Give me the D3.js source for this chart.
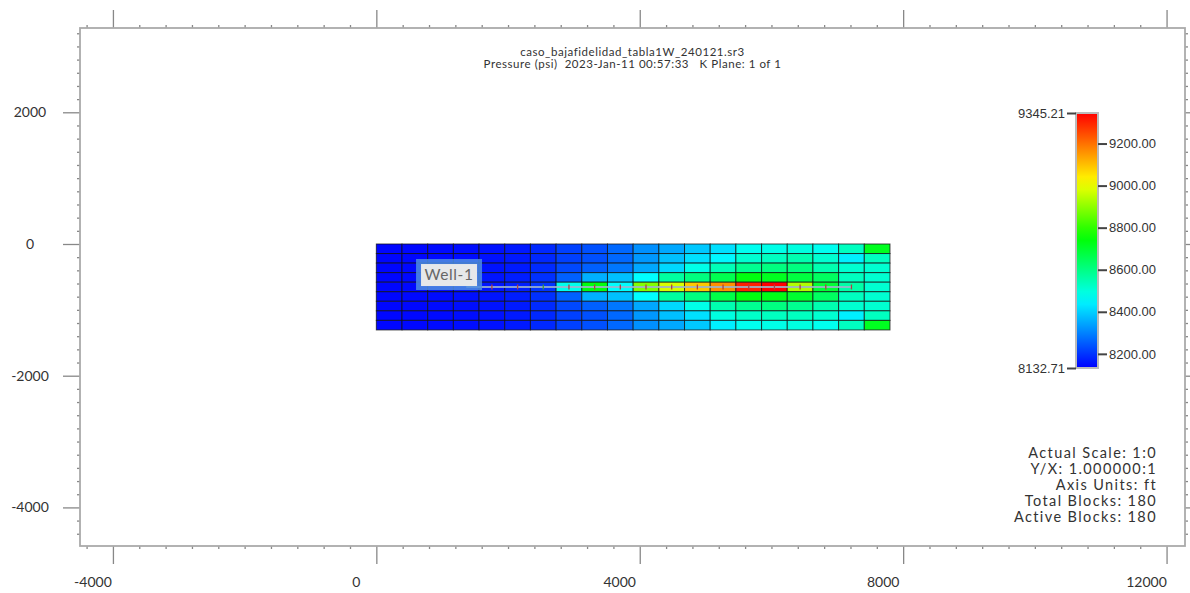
<!DOCTYPE html>
<html>
<head>
<meta charset="utf-8">
<script src="https://cdn.jsdelivr.net/npm/d3@7"></script>
<style>
    body { margin: 0; background: #fff; }
    svg { display: block; font-family: Lato, "Open Sans", sans-serif; }
    text { fill: #333; }
</style>
</head>
<body>
<svg width="1190" height="593"></svg>
<script>
// grid pressures (psi), rows from top (j=1) to bottom (j=9), columns i=1..20
const pressure = [
    [8140, 8142, 8146, 8150, 8155, 8165, 8184, 8215, 8235, 8266, 8318, 8348, 8390, 8420, 8477, 8486, 8495, 8477, 8532, 8714],
    [8140, 8142, 8146, 8150, 8155, 8165, 8184, 8215, 8235, 8266, 8328, 8379, 8420, 8451, 8513, 8532, 8550, 8513, 8441, 8532],
    [8140, 8142, 8146, 8150, 8156, 8166, 8186, 8225, 8256, 8286, 8348, 8410, 8486, 8541, 8586, 8605, 8605, 8550, 8513, 8513],
    [8141, 8143, 8147, 8152, 8158, 8170, 8194, 8256, 8359, 8379, 8460, 8568, 8605, 8660, 8733, 8714, 8678, 8641, 8532, 8513],
    [8141, 8143, 8148, 8153, 8160, 8172, 8200, 8480, 8735, 8460, 8885, 8977, 9088, 9160, 9304, 9345, 8935, 8690, 8559, 8513],
    [8141, 8143, 8147, 8152, 8158, 8170, 8194, 8256, 8359, 8379, 8460, 8568, 8605, 8669, 8733, 8724, 8696, 8641, 8532, 8513],
    [8140, 8142, 8146, 8150, 8156, 8166, 8186, 8225, 8256, 8286, 8348, 8410, 8486, 8550, 8586, 8605, 8586, 8550, 8513, 8513],
    [8140, 8142, 8146, 8150, 8155, 8165, 8184, 8215, 8235, 8266, 8328, 8379, 8420, 8495, 8522, 8532, 8532, 8513, 8441, 8532],
    [8140, 8142, 8146, 8150, 8155, 8165, 8184, 8215, 8235, 8266, 8318, 8348, 8390, 8441, 8477, 8486, 8495, 8477, 8532, 8714]
];
const P_MIN = 8132.71, P_MAX = 9345.21;
const legendTicks = [9200, 9000, 8800, 8600, 8400, 8200];

const xMajor = [-4000, 0, 4000, 8000, 12000];
const yMajor = [2000, 0, -2000, -4000];

const titleLines = [
    'caso_bajafidelidad_tabla1W_240121.sr3',
    'Pressure (psi)  2023-Jan-11 00:57:33   K Plane: 1 of 1'
];
const infoLines = ['Actual Scale: 1:0', 'Y/X: 1.000000:1', 'Axis Units: ft', 'Total Blocks: 180', 'Active Blocks: 180'];

const wellName = 'Well-1';
const wellRow = 4;                      // zero based layer of the horizontal well
const perfCols = [4, 5, 6, 7, 8, 9, 10, 11, 12, 13, 14, 15, 16, 17, 18];

// block size in ft
const DX = 390, DY = 145;

const svg = d3.select('svg');
const boxL = 80, boxR = 1185, boxT = 28, boxB = 546;

const x = d3.scaleLinear().domain([-4500, 12280]).range([boxL, boxR]);
const y = d3.scaleLinear().domain([3280, -4586]).range([boxT, boxB]);

// jet-like colour ramp
const stops = [0, 0.27, 0.51, 0.73, 1].map(f => P_MIN + f * (P_MAX - P_MIN));
const color = d3.scaleLinear()
    .domain(stops)
    .range(['#0000ff', '#00ffff', '#00ff00', '#ffff00', '#ff0000'])
    .interpolate(d3.interpolateRgb)
    .clamp(true);

// AXES ==============================================================
const xMinor = d3.range(-4400, 12001, 400).filter(v => !xMajor.includes(v));
const yMinor = d3.range(3200, -4401, -200).filter(v => !yMajor.includes(v));

function ticks(axis, vals, size) {
    return g => g.call(axis.tickValues(vals).tickSize(size).tickFormat(''))
        .call(g => g.select('.domain').remove())
        .call(g => g.selectAll('line').attr('stroke', '#888').attr('stroke-width', 1.3));
}

svg.append('g').attr('transform', `translate(0,${boxT})`).call(ticks(d3.axisTop(x), xMajor, 18));
svg.append('g').attr('transform', `translate(0,${boxT})`).call(ticks(d3.axisTop(x), xMinor, 3));
svg.append('g').attr('transform', `translate(0,${boxB})`).call(ticks(d3.axisBottom(x), xMajor, 18));
svg.append('g').attr('transform', `translate(0,${boxB})`).call(ticks(d3.axisBottom(x), xMinor, 3));
svg.append('g').attr('transform', `translate(${boxL},0)`).call(ticks(d3.axisLeft(y), yMajor, 17));
svg.append('g').attr('transform', `translate(${boxL},0)`).call(ticks(d3.axisLeft(y), yMinor, 3));
svg.append('g').attr('transform', `translate(${boxR},0)`).call(ticks(d3.axisRight(y), yMajor, 17));
svg.append('g').attr('transform', `translate(${boxR},0)`).call(ticks(d3.axisRight(y), yMinor, 3));

svg.append('rect')
    .attr('x', boxL).attr('y', boxT)
    .attr('width', boxR - boxL).attr('height', boxB - boxT)
    .attr('fill', 'none').attr('stroke', '#aaa').attr('stroke-width', 1.8);

svg.append('g').selectAll('text')
    .data(xMajor)
    .join('text')
    .attr('x', d => x(d) - 20)
    .attr('y', 582)
    .attr('dy', '0.35em')
    .attr('text-anchor', 'middle')
    .attr('font-size', 14)
    .text(d => d);

svg.append('g').selectAll('text')
    .data(yMajor)
    .join('text')
    .attr('x', 30)
    .attr('y', d => y(d))
    .attr('dy', '0.35em')
    .attr('text-anchor', 'middle')
    .attr('font-size', 14)
    .text(d => d);

// GRID ==============================================================
const cells = pressure.flatMap((row, j) => row.map((v, i) => ({ i, j, v })));

svg.append('g').selectAll('rect')
    .data(cells)
    .join('rect')
    .attr('x', d => x(d.i * DX))
    .attr('y', d => y(-d.j * DY))
    .attr('width', x(DX) - x(0))
    .attr('height', y(-DY) - y(0))
    .attr('fill', d => color(d.v))
    .attr('stroke', '#111')
    .attr('stroke-opacity', 0.75)
    .attr('stroke-width', 1);

// WELL ==============================================================
const wellY = y(-(wellRow + 0.5) * DY);
svg.append('line')
    .attr('x1', x(3.5 * DX)).attr('x2', x((d3.max(perfCols) + 0.5) * DX))
    .attr('y1', wellY).attr('y2', wellY)
    .attr('stroke', '#9db4cc').attr('stroke-opacity', 0.85).attr('stroke-width', 2);

svg.append('g').selectAll('line')
    .data(perfCols)
    .join('line')
    .attr('x1', d => x((d + 0.5) * DX)).attr('x2', d => x((d + 0.5) * DX))
    .attr('y1', wellY - 2.5).attr('y2', wellY + 2.5)
    .attr('stroke', d => d === 6 ? '#3a9a3a' : '#b04040')
    .attr('stroke-width', 1.3);

const lbl = svg.append('g').attr('transform', `translate(${x(1104)},${y(-456)})`);
lbl.append('rect')
    .attr('x', -33).attr('y', -15).attr('width', 66).attr('height', 31)
    .attr('fill', '#4d8ee0').attr('opacity', 0.85);
lbl.append('rect')
    .attr('x', -28).attr('y', -10).attr('width', 56).attr('height', 22)
    .attr('fill', '#e6e8ea');
lbl.append('text')
    .attr('y', 1).attr('dy', '0.35em')
    .attr('text-anchor', 'middle')
    .attr('font-size', 15.5)
    .attr('letter-spacing', 0.6)
    .style('fill', '#666')
    .text(wellName);

// TITLE & INFO ======================================================
svg.append('g').selectAll('text')
    .data(titleLines)
    .join('text')
    .attr('x', (boxL + boxR) / 2)
    .attr('y', (d, i) => 52 + i * 12)
    .attr('dy', '0.35em')
    .attr('text-anchor', 'middle')
    .attr('font-size', 11.5)
    .attr('letter-spacing', 0.55)
    .attr('xml:space', 'preserve')
    .style('white-space', 'pre')
    .text(d => d);

svg.append('g').selectAll('text')
    .data(infoLines)
    .join('text')
    .attr('x', 1157)
    .attr('y', (d, i) => 453 + i * 16)
    .attr('dy', '0.35em')
    .attr('text-anchor', 'end')
    .attr('font-size', 14.5)
    .attr('letter-spacing', 1.4)
    .text(d => d);

// COLOUR BAR ========================================================
const barX = 1076, barW = 22, barTop = 113, barBottom = 368;
const yBar = d3.scaleLinear().domain([P_MIN, P_MAX]).range([barBottom, barTop]);

const grad = svg.append('defs').append('linearGradient')
    .attr('id', 'ramp').attr('x1', 0).attr('x2', 0).attr('y1', 1).attr('y2', 0);
grad.selectAll('stop')
    .data(d3.range(0, 1.0001, 0.05))
    .join('stop')
    .attr('offset', d => d)
    .attr('stop-color', d => color(P_MIN + d * (P_MAX - P_MIN)));

svg.append('rect')
    .attr('x', barX).attr('y', barTop)
    .attr('width', barW).attr('height', barBottom - barTop)
    .attr('fill', 'url(#ramp)')
    .attr('stroke', '#bbb').attr('stroke-width', 2);

const barAxis = svg.append('g').attr('transform', `translate(${barX + barW},0)`)
    .call(d3.axisRight(yBar).tickValues(legendTicks).tickSize(9).tickPadding(2).tickFormat(d3.format('.2f')));
barAxis.select('.domain').remove();
barAxis.selectAll('line').attr('stroke', '#444').attr('stroke-width', 2);
barAxis.selectAll('text').attr('font-size', 13).attr('font-family', null).style('fill', '#333');

const endAxis = svg.append('g').attr('transform', `translate(${barX},0)`)
    .call(d3.axisLeft(yBar).tickValues([P_MAX, P_MIN]).tickSize(9).tickPadding(2).tickFormat(d3.format('.2f')));
endAxis.select('.domain').remove();
endAxis.selectAll('line').attr('stroke', '#444').attr('stroke-width', 2);
endAxis.selectAll('text').attr('font-size', 13).attr('font-family', null).style('fill', '#333');
</script>
</body>
</html>
